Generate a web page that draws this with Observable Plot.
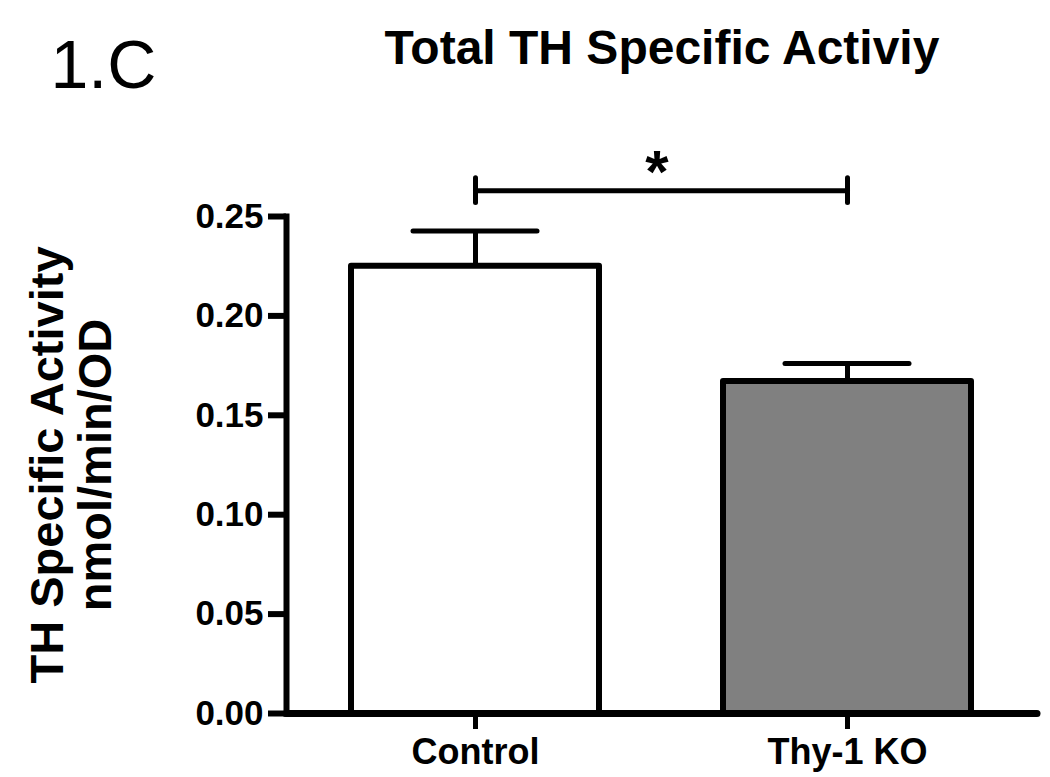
<!DOCTYPE html>
<html>
<head>
<meta charset="utf-8">
<script src="https://cdn.jsdelivr.net/npm/d3@7"></script>
<script src="https://cdn.jsdelivr.net/npm/@observablehq/plot@0.6"></script>
<style>
  html, body { margin: 0; padding: 0; background: #fff; }
  #chart svg { display: block; }
</style>
</head>
<body>
<div id="chart"></div>
<script>
// ---- data ----
const categories = ["Control", "Thy-1 KO"];
const means = [0.225, 0.167];
const sems = [0.0177, 0.009];
const barFills = ["#ffffff", "#808080"];
const yTicks = [0, 0.05, 0.10, 0.15, 0.20, 0.25];
const sigLevel = 0.263;
const sigHalf = 0.0062;
const sigLabel = "*";
const panelLabel = "1.C";
const titleText = "Total TH Specific Activiy";
const yLabelText = "TH Specific Activity\nnmol/min/OD";

const bars = categories.map((g, i) => ({group: g, mean: means[i], sem: sems[i], fill: barFills[i]}));
const bracket = categories.map(g => ({group: g, y: sigLevel}));

const font = "'Liberation Sans', Arial, Helvetica, sans-serif";

const chart = Plot.plot({
  width: 1050,
  height: 777,
  marginLeft: 286,
  marginRight: 13,
  marginTop: 216,
  marginBottom: 64,
  style: {fontFamily: font, fontSize: "35px", fontWeight: "bold", background: "#fff", color: "#000", overflow: "visible"},
  x: {domain: categories, paddingInner: 0.333, paddingOuter: 0.175, label: null},
  y: {domain: [0, 0.25], label: null},
  color: {type: "identity"},
  marks: [
    Plot.barY(bars, {x: "group", y: "mean", fill: "fill", stroke: "#000", strokeWidth: 6, strokeLinejoin: "round"}),
    Plot.ruleX(bars, {x: "group", y1: "mean", y2: d => d.mean + d.sem, stroke: "#000", strokeWidth: 5}),
    Plot.tickY(bars, {x: "group", y: d => d.mean + d.sem, stroke: "#000", strokeWidth: 5, strokeLinecap: "round", insetLeft: 62, insetRight: 62}),
    Plot.axisY({ticks: yTicks, tickFormat: d3.format(".2f"), tickSize: 18, tickPadding: 5, strokeWidth: 6, fontSize: 35, fontWeight: "bold", label: null}),
    Plot.axisX({tickSize: 16, tickPadding: 9, strokeWidth: 5, fontSize: 36, fontWeight: "bold", label: null}),
    Plot.frame({anchor: "left", strokeWidth: 6}),
    Plot.ruleY([0], {strokeWidth: 7, strokeLinecap: "round"}),
    Plot.line(bracket, {x: "group", y: "y", stroke: "#000", strokeWidth: 5}),
    Plot.ruleX(bracket, {x: "group", y1: d => d.y - sigHalf, y2: d => d.y + sigHalf, stroke: "#000", strokeWidth: 5, strokeLinecap: "round"}),
    Plot.text([sigLabel], {y: [sigLevel], text: d => d, frameAnchor: "middle", textAnchor: "middle", dx: -5, dy: 1, lineAnchor: "bottom", fontSize: 60, fontWeight: "bold", fill: "#000"}),
    Plot.text([titleText], {frameAnchor: "top", text: d => d, textAnchor: "middle", lineAnchor: "middle", dy: -168, fontSize: 48, fontWeight: "bold", fill: "#000"}),
    Plot.text([panelLabel], {frameAnchor: "top-left", text: d => d, textAnchor: "start", lineAnchor: "middle", dx: -236, dy: -150, fontSize: 68, fontWeight: "normal", fill: "#000"}),
    Plot.text([yLabelText], {frameAnchor: "left", text: d => d, textAnchor: "middle", lineAnchor: "middle", rotate: -90, dx: -215, lineHeight: 1.02, fontSize: 47, fontWeight: "bold", fill: "#000"})
  ]
});
document.getElementById("chart").appendChild(chart);
</script>
</body>
</html>
